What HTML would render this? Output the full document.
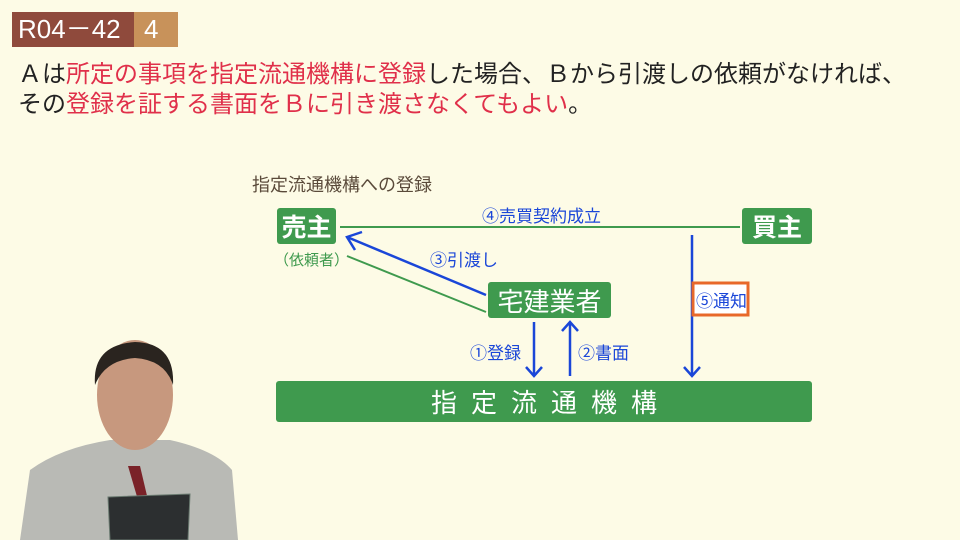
<!DOCTYPE html>
<html><head><meta charset="utf-8"><style>
*{margin:0;padding:0;box-sizing:border-box}
body{width:960px;height:540px;background:#fdfbe6;position:relative;overflow:hidden;font-family:"Liberation Sans","Noto Sans CJK JP",sans-serif}
.a{position:absolute;white-space:nowrap}
.g{background:#3f9a4e;color:#fff;border-radius:3px;display:flex;align-items:center;justify-content:center}
.r{color:#e0304a}
</style></head><body>
<div class="a" style="left:12px;top:12px;width:122px;height:35px;background:#8f4a3c;color:#fff;font-size:26px;line-height:35px;padding-left:6px">R04－42</div>
<div class="a" style="left:134px;top:12px;width:44px;height:35px;background:#c8925a;color:#fff;font-size:26px;line-height:35px;padding-left:10px">4</div>
<div class="a" style="left:18px;top:60px;font-size:24px;line-height:30px;color:#222">Ａは<span class="r">所定の事項を指定流通機構に登録</span>した場合、Ｂから引渡しの依頼がなければ、</div>
<div class="a" style="left:18px;top:90px;font-size:24px;line-height:30px;color:#222">その<span class="r">登録を証する書面をＢに引き渡さなくてもよい</span>。</div>
<div class="a" style="left:252px;top:171px;font-size:18px;color:#5a4a3a">指定流通機構への登録</div>
<div class="a g" style="left:277px;top:208px;width:59px;height:36px;font-size:25px;font-weight:bold">売主</div>
<div class="a g" style="left:742px;top:208px;width:70px;height:36px;font-size:25px;font-weight:bold">買主</div>
<div class="a" style="left:274px;top:249px;font-size:15px;color:#3f9a4e">（依頼者）</div>
<div class="a g" style="left:488px;top:282px;width:123px;height:36px;font-size:26px">宅建業者</div>
<div class="a g" style="left:276px;top:381px;width:536px;height:41px;font-size:26px;letter-spacing:14px;padding-left:14px">指定流通機構</div>
<svg class="a" style="left:0;top:0" width="960" height="540">
<g stroke="#3f9a4e" stroke-width="2" fill="none"><line x1="340" y1="227" x2="740" y2="227"/><line x1="486" y1="312" x2="347" y2="256"/></g>
<g stroke="#1a46d8" stroke-width="2.5" fill="none">
<line x1="486" y1="295" x2="347" y2="237"/><polyline points="362,232 347,237 355,250"/>
<line x1="534" y1="322" x2="534" y2="376"/><polyline points="526,367 534,376 542,367"/>
<line x1="570" y1="376" x2="570" y2="322"/><polyline points="562,331 570,322 578,331"/>
<line x1="692" y1="235" x2="692" y2="376"/><polyline points="684,367 692,376 700,367"/>
</g>
<rect x="693" y="283" width="55" height="32" fill="#fff" stroke="#e8682a" stroke-width="3"/>
<path d="M20,540 L30,470 Q60,448 110,440 L170,440 Q215,450 232,470 L238,540Z" fill="#b9bab5"/>
<path d="M128,466 L140,466 L148,500 L138,500Z" fill="#7a2228"/>
<ellipse cx="135" cy="395" rx="38" ry="55" fill="#c7987e"/>
<path d="M95,385 Q92,345 135,342 Q175,343 173,385 Q165,360 135,358 Q105,360 95,385Z" fill="#2a241f"/>
<path d="M108,497 L190,494 L188,540 L110,540Z" fill="#2c2f30" stroke="#6a7a70" stroke-width="1"/>
</svg>
<div class="a" style="left:482px;top:202px;font-size:17px;color:#1a46d8">④売買契約成立</div>
<div class="a" style="left:430px;top:246px;font-size:17px;color:#1a46d8">③引渡し</div>
<div class="a" style="left:470px;top:339px;font-size:17px;color:#1a46d8">①登録</div>
<div class="a" style="left:578px;top:339px;font-size:17px;color:#1a46d8">②書面</div>
<div class="a" style="left:696px;top:287px;font-size:17px;color:#1a46d8">⑤通知</div>
</body></html>
